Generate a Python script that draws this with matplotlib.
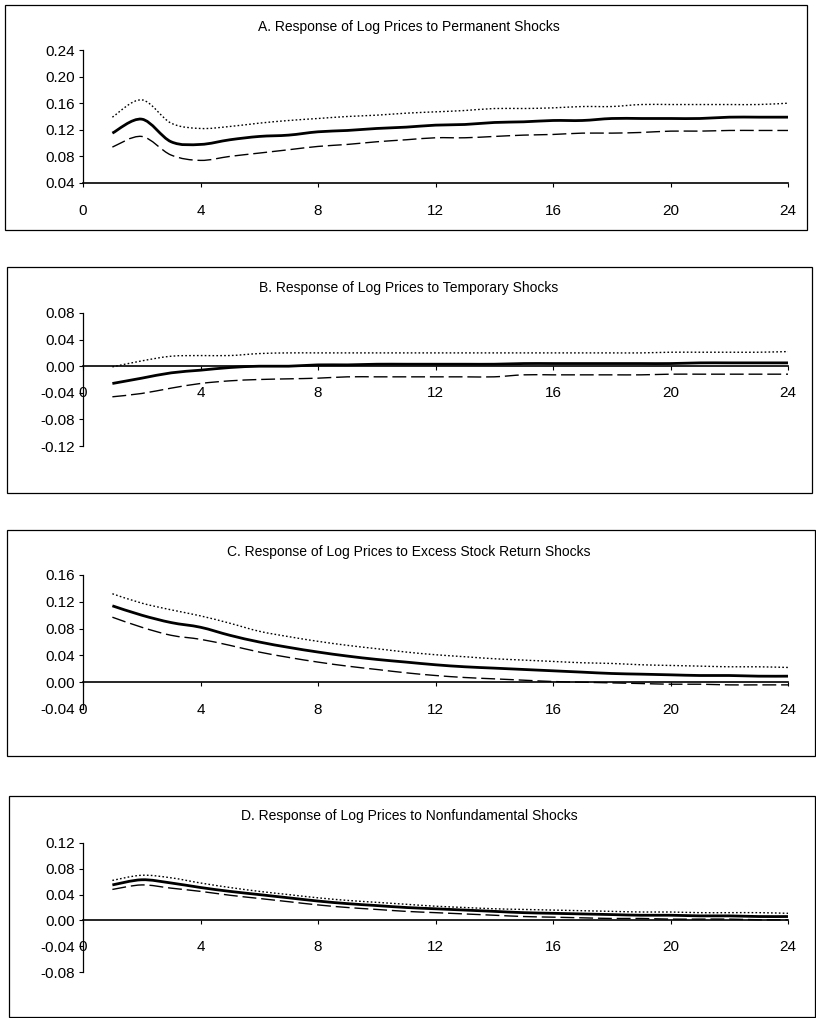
import matplotlib
matplotlib.use("Agg")
import matplotlib.pyplot as plt
from matplotlib.path import Path
from matplotlib.patches import PathPatch, Rectangle

plt.rcParams['font.family'] = ['Liberation Sans Narrow', 'Liberation Sans', 'DejaVu Sans']
plt.rcParams['axes.unicode_minus'] = False

periods = list(range(1, 25))
x_ticks = [0, 4, 8, 12, 16, 20, 24]

# A. permanent shocks
a_mid = [0.115, 0.136, 0.102, 0.098, 0.105, 0.110, 0.112, 0.117, 0.119, 0.122, 0.124, 0.127,
         0.128, 0.131, 0.132, 0.134, 0.134, 0.137, 0.137, 0.137, 0.137, 0.139, 0.139, 0.139]
a_up = [0.139, 0.165, 0.130, 0.122, 0.125, 0.130, 0.134, 0.137, 0.140, 0.142, 0.145, 0.147,
        0.149, 0.152, 0.152, 0.153, 0.155, 0.155, 0.158, 0.158, 0.158, 0.158, 0.158, 0.160]
a_lo = [0.094, 0.110, 0.082, 0.074, 0.080, 0.085, 0.090, 0.095, 0.098, 0.102, 0.105, 0.108,
        0.108, 0.110, 0.112, 0.113, 0.115, 0.115, 0.116, 0.118, 0.118, 0.119, 0.119, 0.119]

# B. temporary shocks
b_mid = [-0.026, -0.018, -0.010, -0.006, -0.002, 0.000, 0.000, 0.002, 0.002, 0.003, 0.003, 0.003,
         0.003, 0.003, 0.004, 0.004, 0.004, 0.004, 0.004, 0.004, 0.005, 0.005, 0.005, 0.005]
b_up = [-0.001, 0.008, 0.015, 0.016, 0.016, 0.019, 0.020, 0.020, 0.020, 0.020, 0.020, 0.020,
        0.020, 0.020, 0.020, 0.020, 0.020, 0.020, 0.020, 0.021, 0.021, 0.021, 0.021, 0.022]
b_lo = [-0.046, -0.041, -0.033, -0.026, -0.022, -0.020, -0.019, -0.018, -0.016, -0.016, -0.016, -0.016,
        -0.016, -0.016, -0.013, -0.013, -0.013, -0.013, -0.013, -0.012, -0.012, -0.012, -0.012, -0.012]

# C. excess stock return shocks
c_mid = [0.114, 0.100, 0.089, 0.082, 0.070, 0.060, 0.052, 0.045, 0.039, 0.034, 0.030, 0.026,
         0.023, 0.021, 0.019, 0.017, 0.015, 0.013, 0.012, 0.011, 0.010, 0.010, 0.009, 0.009]
c_up = [0.132, 0.118, 0.108, 0.099, 0.088, 0.076, 0.068, 0.061, 0.055, 0.050, 0.045, 0.041,
        0.038, 0.035, 0.033, 0.031, 0.029, 0.028, 0.026, 0.025, 0.024, 0.023, 0.023, 0.022]
c_lo = [0.097, 0.082, 0.070, 0.064, 0.055, 0.045, 0.037, 0.030, 0.024, 0.019, 0.014, 0.010,
        0.007, 0.005, 0.003, 0.001, 0.000, -0.001, -0.002, -0.003, -0.003, -0.004, -0.004, -0.004]

# D. nonfundamental shocks
d_mid = [0.055, 0.063, 0.058, 0.051, 0.045, 0.040, 0.035, 0.030, 0.026, 0.023, 0.020, 0.018,
         0.016, 0.014, 0.012, 0.011, 0.010, 0.009, 0.008, 0.008, 0.007, 0.007, 0.006, 0.006]
d_up = [0.062, 0.070, 0.066, 0.058, 0.051, 0.045, 0.040, 0.035, 0.031, 0.028, 0.025, 0.022,
        0.020, 0.018, 0.017, 0.016, 0.015, 0.014, 0.013, 0.013, 0.012, 0.012, 0.012, 0.011]
d_lo = [0.048, 0.055, 0.050, 0.045, 0.039, 0.034, 0.029, 0.024, 0.020, 0.017, 0.014, 0.012,
        0.010, 0.008, 0.006, 0.005, 0.004, 0.003, 0.003, 0.002, 0.002, 0.002, 0.001, 0.001]

titles = ["A. Response of Log Prices to Permanent Shocks",
          "B. Response of Log Prices to Temporary Shocks",
          "C. Response of Log Prices to Excess Stock Return Shocks",
          "D. Response of Log Prices to Nonfundamental Shocks"]
y_ticks = [[0.04, 0.08, 0.12, 0.16, 0.20, 0.24],
           [-0.12, -0.08, -0.04, 0.00, 0.04, 0.08],
           [-0.04, 0.00, 0.04, 0.08, 0.12, 0.16],
           [-0.08, -0.04, 0.00, 0.04, 0.08, 0.12]]
series = [(a_mid, a_up, a_lo), (b_mid, b_up, b_lo), (c_mid, c_up, c_lo), (d_mid, d_up, d_lo)]

W, H = 816, 1018
# pixel layout: axes (ymax, ymin) rows, frame box [x0, y0, x1, y1]
axes_px = [(50, 183), (313, 446), (575, 709), (843, 972)]
boxes_px = [(5, 5, 807, 230), (7, 267, 812, 493), (7, 530, 815, 756), (9, 796, 815, 1017)]
title_px = [27, 288, 552, 816]
xlabel_pad = [12, 11, 12, 11]


def smooth_path(xs, ys):
    # Excel-style smoothed line as cubic Bezier segments (Catmull-Rom)
    pts = list(zip(xs, ys))
    verts = [pts[0]]
    codes = [Path.MOVETO]
    n = len(pts)
    for i in range(n - 1):
        p0 = pts[max(i - 1, 0)]
        p1 = pts[i]
        p2 = pts[i + 1]
        p3 = pts[min(i + 2, n - 1)]
        c1 = (p1[0] + (p2[0] - p0[0]) / 6, p1[1] + (p2[1] - p0[1]) / 6)
        c2 = (p2[0] - (p3[0] - p1[0]) / 6, p2[1] - (p3[1] - p1[1]) / 6)
        verts += [c1, c2, p2]
        codes += [Path.CURVE4] * 3
    return Path(verts, codes)


fig = plt.figure(figsize=(W / 100, H / 100), dpi=100)

for k in range(4):
    top, bot = axes_px[k]
    ax = fig.add_axes([83 / W, 1 - bot / H, (788 - 83) / W, (bot - top) / H])
    mid, up, lo = series[k]
    ax.add_patch(PathPatch(smooth_path(periods, up), fill=False, color='black', lw=1.0,
                           linestyle=(0, (1.2, 1.6))))
    ax.add_patch(PathPatch(smooth_path(periods, lo), fill=False, color='black', lw=1.0,
                           linestyle=(0, (10, 3.5))))
    ax.add_patch(PathPatch(smooth_path(periods, mid), fill=False, color='black', lw=2.0))

    ax.set_xlim(0, 24)
    ax.set_ylim(y_ticks[k][0], y_ticks[k][-1])
    ax.set_xticks(x_ticks)
    ax.set_xticklabels([str(t) for t in x_ticks])
    ax.set_yticks(y_ticks[k])
    ax.set_yticklabels([f"{t:.2f}" for t in y_ticks[k]])
    ax.spines['top'].set_visible(False)
    ax.spines['right'].set_visible(False)
    if k > 0:
        ax.spines['bottom'].set_position(('data', 0))
    ax.spines['left'].set_linewidth(0.9)
    ax.spines['bottom'].set_linewidth(1.2)
    ax.tick_params(axis='y', direction='out', length=3, width=0.8, labelsize=11, pad=3)
    ax.tick_params(axis='x', direction='out', length=3, width=0.8, labelsize=11,
                   pad=xlabel_pad[k])
    ax.patch.set_visible(False)

    fig.text(409 / W, 1 - title_px[k] / H, titles[k], ha='center', va='center', fontsize=10)

    x0, y0, x1, y1 = boxes_px[k]
    fig.patches.append(Rectangle((x0 / W, 1 - y1 / H), (x1 - x0) / W, (y1 - y0) / H,
                                 transform=fig.transFigure, fill=False, ec='black', lw=0.9))

fig.savefig("out.png", dpi=100)
